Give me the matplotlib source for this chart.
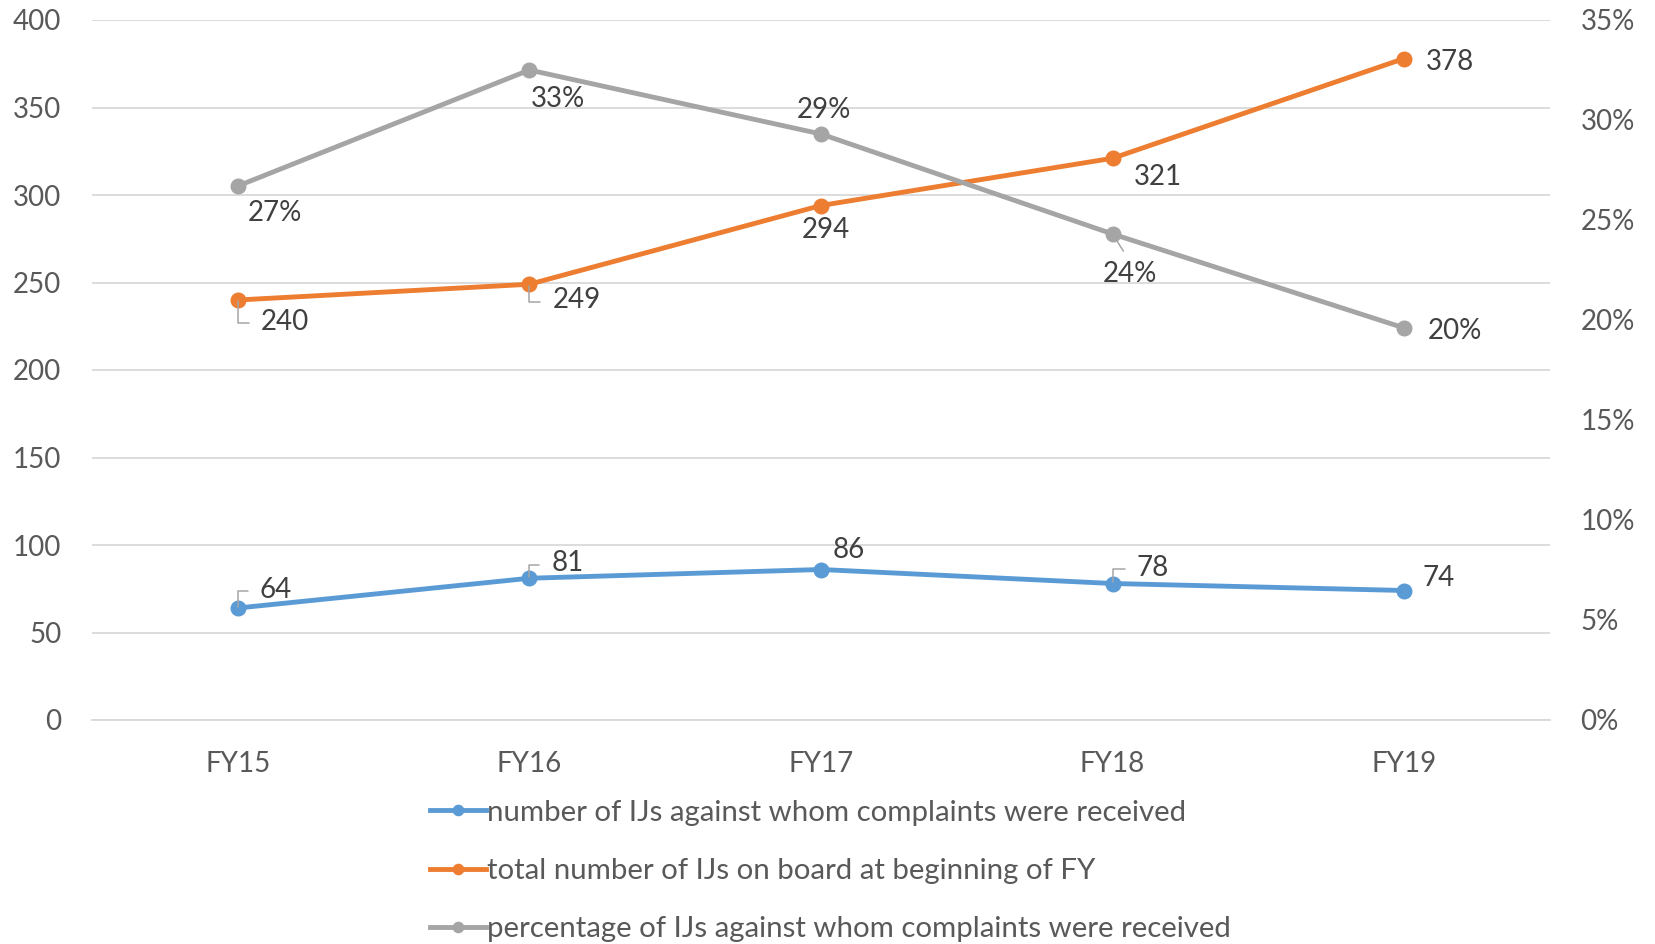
import numpy as np
import matplotlib
matplotlib.use("Agg")
import matplotlib.pyplot as plt
from matplotlib.ticker import PercentFormatter

# data
years = ["FY15", "FY16", "FY17", "FY18", "FY19"]
complaints = [64, 81, 86, 78, 74]
on_board = [240, 249, 294, 321, 378]
pct = [0.267, 0.325, 0.293, 0.243, 0.196]
pct_labels = ["27%", "33%", "29%", "24%", "20%"]

# label offsets in pixels from the marker to the text centre (dx, dy up)
off_complaints = [(38, 20), (38, 17), (28, 21), (40, 18), (34, 15)]
lead_complaints = [True, True, False, True, False]
off_board = [(47, -20), (47, -14), (5, -22), (45, -17), (46, -2)]
lead_board = [True, True, False, False, False]
off_pct = [(37, -25), (29, -27), (3, 26), (17, -38), (51, -1)]
lead_pct = [False, False, False, True, False]

blue = "#5B9BD5"
orange = "#ED7D31"
gray = "#A5A5A5"
txt = "#404040"
tick_col = "#595959"

plt.rcParams['font.family'] = ['Lato', 'DejaVu Sans']

fig = plt.figure(figsize=(16.55, 9.44), dpi=100)
ax = fig.add_axes([92/1655, 1-720/944, (1550-92)/1655, 700/944])
ax2 = ax.twinx()

x = np.arange(len(years))
l1, = ax.plot(x, complaints, color=blue, lw=3.5, marker='o', ms=10.5, zorder=3,
              label="number of IJs against whom complaints were received")
l2, = ax.plot(x, on_board, color=orange, lw=3.5, marker='o', ms=10.5, zorder=3,
              label="total number of IJs on board at beginning of FY")
l3, = ax2.plot(x, pct, color=gray, lw=3.5, marker='o', ms=10.5, zorder=3,
               label="percentage of IJs against whom complaints were received")

ax.set_xlim(-0.5, 4.5)
ax.set_ylim(0, 400)
ax.set_yticks(range(0, 401, 50))
ax2.set_ylim(0, 0.35)
ax2.set_yticks(np.arange(0, 0.351, 0.05))
ax2.yaxis.set_major_formatter(PercentFormatter(1.0, decimals=0))
ax.set_xticks(x)
ax.set_xticklabels(years)

ax.grid(axis='y', color='#D9D9D9', lw=1.3)
ax.set_axisbelow(True)
for a in (ax, ax2):
    for s in a.spines.values():
        s.set_visible(False)
ax.spines['bottom'].set_visible(True)
ax.spines['bottom'].set_color('#D9D9D9')
ax.spines['bottom'].set_linewidth(1.3)

ax.tick_params(axis='both', length=0, labelsize=20, labelcolor=tick_col)
ax.tick_params(axis='y', pad=22)
ax.tick_params(axis='x', pad=22)
ax2.tick_params(axis='y', length=0, labelsize=20, labelcolor=tick_col, pad=22)


def add_labels(axis, vals, texts, offs, leads):
    for i, v in enumerate(vals):
        dx, dy = offs[i]
        if leads[i]:
            if abs(dy) > 30:
                arrow = dict(arrowstyle='-', color=gray, lw=1.1, shrinkA=6, shrinkB=6,
                             connectionstyle="arc3", relpos=(0.5, 1.0))
            else:
                arrow = dict(arrowstyle='-', color=gray, lw=1.1, shrinkA=6.5, shrinkB=1,
                             connectionstyle="angle,angleA=0,angleB=90,rad=0",
                             relpos=(0.0, 0.45))
        else:
            arrow = None
        # baseline sits half a cap height below the text centre
        axis.annotate(texts[i], (i, v), xytext=(dx, dy - 10), textcoords='offset pixels',
                      ha='center', va='baseline', fontsize=20, color=txt,
                      arrowprops=arrow, zorder=4)


add_labels(ax, complaints, [str(v) for v in complaints], off_complaints, lead_complaints)
add_labels(ax, on_board, [str(v) for v in on_board], off_board, lead_board)
add_labels(ax2, pct, pct_labels, off_pct, lead_pct)

fig.legend(handles=[l1, l2, l3], loc='upper left', bbox_to_anchor=(415/1655, 1-785/944),
           frameon=False, fontsize=21.2, labelcolor=tick_col, handlelength=1.9,
           handletextpad=0.06, labelspacing=1.1, borderpad=0, markerscale=0.7)

fig.savefig("out.png", dpi=100)
